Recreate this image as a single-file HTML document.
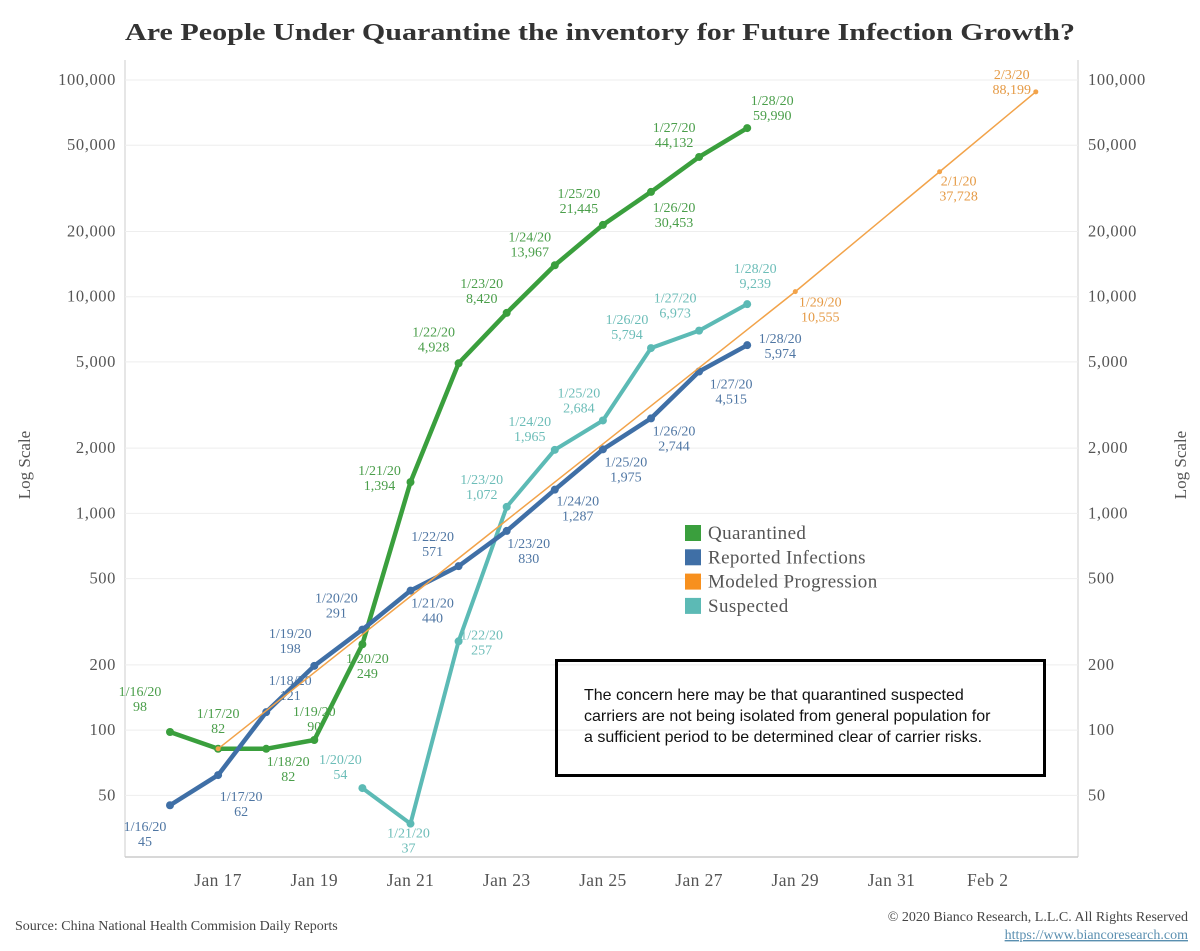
<!DOCTYPE html>
<html><head><meta charset="utf-8">
<style>
body{margin:0;background:#fff;width:1200px;height:951px;overflow:hidden;font-family:"Liberation Serif",serif;}
svg{display:block}
#note{position:absolute;left:555px;top:659px;width:491px;height:118px;border:3.5px solid #000;box-sizing:border-box;font-family:"Liberation Sans",sans-serif;font-size:16px;line-height:21px;color:#111;padding:23px 20px 0 26px;}
</style></head>
<body>
<div style="position:relative;width:1200px;height:951px">
<svg id="chart" width="1200" height="951"></svg>
<div id="note">The concern here may be that quarantined suspected<br>carriers are not being isolated from general population for<br>a sufficient period to be determined clear of carrier risks.</div>
</div>
<script>
// data
const qDays = [16,17,18,19,20,21,22,23,24,25,26,27,28];
const qVals = [98,82,82,90,249,1394,4928,8420,13967,21445,30453,44132,59990];
const rDays = [16,17,18,19,20,21,22,23,24,25,26,27,28];
const rVals = [45,62,121,198,291,440,571,830,1287,1975,2744,4515,5974];
const sDays = [20,21,22,23,24,25,26,27,28];
const sVals = [54,37,257,1072,1965,2684,5794,6973,9239];
const mDays = [17,29,32,34];
const mVals = [82,10555,37728,88199];
const mDates = ["","1/29/20","2/1/20","2/3/20"];
const yTicks = [100000,50000,20000,10000,5000,2000,1000,500,200,100,50];
const xTickDays = [17,19,21,23,25,27,29,31,33];
const xTickLabels = ["Jan 17","Jan 19","Jan 21","Jan 23","Jan 25","Jan 27","Jan 29","Jan 31","Feb 2"];
// label layout offsets (not data)
const qOff=[[-30,-40],[0,-35],[22,13],[0,-28],[5,15],[-31,-11],[-25,-31],[-25,-29],[-25,-28],[-24,-31],[23,16],[-25,-29],[25,-27]];
const rOff=[[-25,22],[23,22],[24,-31],[-24,-32],[-26,-31],[22,13],[-26,-29],[22,13],[23,12],[23,13],[23,13],[32,13],[33,-6]];
const sOff=[[-22,-28],[-2,10],[23,-6],[-25,-27],[-25,-28],[-24,-27],[-24,-28],[-24,-32],[8,-35]];
const mOff=[[0,0],[25,11],[19,10],[-24,-17]];

const X = d => 170 + (d-16)*48.1;
const Y = v => 80 + (5 - Math.log10(v))*216.7;
const svg = document.getElementById('chart');
const NS='http://www.w3.org/2000/svg';
function mk(tag, attrs, parent){const e=document.createElementNS(NS,tag);for(const k in attrs)e.setAttribute(k,attrs[k]);(parent||svg).appendChild(e);return e;}
function txt(x,y,s,attrs){const t=mk('text',Object.assign({x:x,y:y},attrs));t.textContent=s;return t;}
const fmt = v => v.toLocaleString('en-US');
const dateOf = d => d<=31 ? '1/'+d+'/20' : '2/'+(d-31)+'/20';

// title
let t=txt(125,40,'Are People Under Quarantine the inventory for Future Infection Growth?',{'font-size':'24','font-weight':'bold',fill:'#333',textLength:'950',lengthAdjust:'spacingAndGlyphs'});



// frame
let fr=mk('line',{x1:125,y1:60,x2:125,y2:857,stroke:'#ddd','stroke-width':1.5});


fr=mk('line',{x1:1078,y1:60,x2:1078,y2:857,stroke:'#ddd','stroke-width':1.5});


fr=mk('line',{x1:125,y1:857,x2:1078,y2:857,stroke:'#ccc','stroke-width':1.5});



yTicks.forEach(v=>{
  const y=Y(v);
  const g=mk('line',{x1:125,y1:y,x2:1078,y2:y,stroke:'#eee','stroke-width':1});
  
  
  const a=txt(116,y+5,fmt(v),{'text-anchor':'end','font-size':'16.5',fill:'#555','letter-spacing':'0.6'});
  
  
  const b=txt(1088,y+5,fmt(v),{'text-anchor':'start','font-size':'16.5',fill:'#555','letter-spacing':'0.6'});
  
  
});
xTickDays.forEach((d,i)=>{
  const a=txt(X(d),886,xTickLabels[i],{'text-anchor':'middle','font-size':'17.5',fill:'#555','letter-spacing':'0.4'});
  
  
});
let yt=txt(0,0,'Log Scale',{'text-anchor':'middle','font-size':'17',fill:'#555',transform:'translate(30,465) rotate(-90)'});


yt=txt(0,0,'Log Scale',{'text-anchor':'middle','font-size':'17',fill:'#555',transform:'translate(1186,465) rotate(-90)'});



function series(days, vals, color, width, r, name, off, labelColor, dates){
  const pts=days.map((d,i)=>X(d)+','+Y(vals[i])).join(' ');
  const pl=mk('polyline',{points:pts,fill:'none',stroke:color,'stroke-width':width,'stroke-linejoin':'round'});
  
  
  days.forEach((d,i)=>{
    const cx=X(d), cy=Y(vals[i]);
    if(r>0){
      const c=mk('circle',{cx:cx,cy:cy,r:r,fill:color});
      
      
    }
    const lbl = dates ? dates[i] : dateOf(d);
    if(!lbl) return;
    const o=off[i];
    const l1=txt(cx+o[0],cy+o[1]+4,lbl,{'text-anchor':'middle','font-size':'14',fill:labelColor});
    
    
    const l2=txt(cx+o[0],cy+o[1]+19,fmt(vals[i]),{'text-anchor':'middle','font-size':'14',fill:labelColor});
    
    
  });
}
series(sDays,sVals,'#5cbab5',4,4,'suspected',sOff,'#6cbdb8');
series(qDays,qVals,'#3a9f3d',4.5,4,'quarantined',qOff,'#4a9e4a');
series(rDays,rVals,'#3f6fa6',4.5,4,'reported',rOff,'#4f76a3');
series(mDays,mVals,'#f2a34a',1.5,2.5,'modeled',mOff,'#e59a45',mDates);

// legend
const legItems=[['Quarantined','#3a9f3d'],['Reported Infections','#3f6fa6'],['Modeled Progression','#f7901e'],['Suspected','#5cbab5']];
legItems.forEach((it,i)=>{
  const y=525+i*24.3;
  const s=mk('rect',{x:685,y:y,width:16,height:16,fill:it[1]});
  
  
  const l=txt(708,y+14,it[0],{'font-size':'19',fill:'#555','letter-spacing':'0.4'});
  
  
});
let src=txt(15,930,'Source: China National Health Commision Daily Reports',{'font-size':'14',fill:'#444'});


let cp=txt(1188,921,'© 2020 Bianco Research, L.L.C. All Rights Reserved',{'text-anchor':'end','font-size':'14',fill:'#444'});


let ln=txt(1188,939,'https://www.biancoresearch.com',{'text-anchor':'end','font-size':'14',fill:'#5a8fb0','text-decoration':'underline'});


</script>
</body></html>
